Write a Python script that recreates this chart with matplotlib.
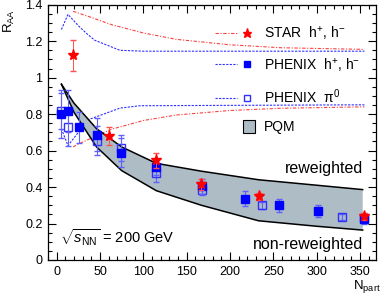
import numpy as np
import matplotlib
matplotlib.use("Agg")
import matplotlib.pyplot as plt
import matplotlib.patches as mpatches
from matplotlib.lines import Line2D
from matplotlib.legend_handler import HandlerTuple, HandlerPatch
from matplotlib.ticker import MultipleLocator, FuncFormatter

plt.rcParams["font.family"] = ["Liberation Sans", "DejaVu Sans"]
plt.rcParams["mathtext.fontset"] = "custom"
plt.rcParams["mathtext.rm"] = "Liberation Sans"
plt.rcParams["mathtext.it"] = "Liberation Sans:italic"

# PHENIX h+, h- (filled squares)
phx_h_N = [5.5, 13, 25.5, 46, 74.7, 114.6, 167.3, 217, 256, 301.6, 354]
phx_h_R = [0.80, 0.818, 0.727, 0.687, 0.589, 0.51, 0.404, 0.336, 0.30, 0.269, 0.227]
phx_h_E = [0.13, 0.115, 0.085, 0.09, 0.08, 0.045, 0.04, 0.042, 0.035, 0.035, 0.03]

# PHENIX pi0 (open squares)
phx_pi_N = [5.5, 13, 46, 74.7, 114.6, 167.3, 236.4, 328.6, 354]
phx_pi_R = [0.818, 0.727, 0.655, 0.615, 0.476, 0.386, 0.30, 0.236, 0.232]
phx_pi_E = [0.10, 0.10, 0.08, 0.07, 0.05, 0.03, 0.02, 0.015, 0.015]

# STAR h+, h- (stars)
star_N = [19, 60.5, 114.6, 166, 233.6, 354]
star_R = [1.124, 0.678, 0.546, 0.415, 0.349, 0.24]
star_E = [0.085, 0.05, 0.04, 0.03, 0.02, 0.02]

# PQM band
pqm_N = [5.5, 20, 46, 75, 115, 167, 233, 300, 353]
pqm_up = [0.964, 0.86, 0.72, 0.62, 0.53, 0.487, 0.44, 0.41, 0.386]
pqm_lo = [0.964, 0.81, 0.62, 0.49, 0.38, 0.30, 0.215, 0.185, 0.164]

# normalisation uncertainty curves
blue_up_N = [5.5, 13, 25, 35, 44, 73, 100, 355]
blue_up_R = [1.264, 1.347, 1.285, 1.24, 1.205, 1.15, 1.145, 1.145]
blue_lo_N = [5.5, 13, 25, 38.6, 73, 96, 355]
blue_lo_R = [0.72, 0.627, 0.70, 0.773, 0.833, 0.846, 0.851]
red_up_N = [19, 40, 63.7, 100, 138, 200, 259, 355]
red_up_R = [1.364, 1.33, 1.29, 1.245, 1.21, 1.18, 1.164, 1.155]
red_lo_N = [19, 25, 61.7, 100, 138, 200, 259, 355]
red_lo_R = [0.62, 0.636, 0.715, 0.765, 0.795, 0.82, 0.832, 0.84]

red_ls = (0, (3, 1.5, 1, 1.5))
blue_ls = (0, (2, 1.2))

fig = plt.figure(figsize=(3.81, 3.01), dpi=100)
ax = fig.add_axes([48/381, 41/301, 327.7/381, 255.3/301])

ax.plot(red_up_N, red_up_R, color="#ff4040", lw=0.8, ls=red_ls, zorder=1)
ax.plot(red_lo_N, red_lo_R, color="#ff4040", lw=0.8, ls=red_ls, zorder=1)
ax.plot(blue_up_N, blue_up_R, color="#3030ff", lw=0.8, ls=blue_ls, zorder=1)
ax.plot(blue_lo_N, blue_lo_R, color="#3030ff", lw=0.8, ls=blue_ls, zorder=1)

ax.fill_between(pqm_N, pqm_lo, pqm_up, facecolor="#aebcc6", edgecolor="none", zorder=2)
ax.plot(pqm_N, pqm_up, color="k", lw=1.1, zorder=3)
ax.plot(pqm_N, pqm_lo, color="k", lw=1.1, zorder=3)

ax.errorbar(phx_pi_N, phx_pi_R, yerr=phx_pi_E, fmt="s", ms=6, mfc="none", mec="#3030ff",
            mew=1.0, ecolor="#6060ff", elinewidth=0.8, capsize=2, zorder=4)
ax.errorbar(phx_h_N, phx_h_R, yerr=phx_h_E, fmt="s", ms=6, mfc="#0000ff", mec="#0000ff",
            ecolor="#6060ff", elinewidth=0.8, capsize=2, zorder=5)
ax.errorbar(star_N, star_R, yerr=star_E, fmt="*", ms=8, mfc="#ff0000", mec="#ff0000",
            ecolor="#ff5050", elinewidth=0.7, capsize=2, zorder=6)

ax.set_xlim(-10, 368)
ax.set_ylim(0, 1.4)
ax.xaxis.set_major_locator(MultipleLocator(50))
ax.xaxis.set_minor_locator(MultipleLocator(10))
ax.yaxis.set_major_locator(MultipleLocator(0.2))
ax.yaxis.set_minor_locator(MultipleLocator(0.05))
ax.yaxis.set_major_formatter(FuncFormatter(lambda v, p: "%g" % round(v, 2)))
ax.tick_params(which="both", direction="in", top=True, right=True, labelsize=9, pad=4)
ax.tick_params(which="major", length=6, width=0.8)
ax.tick_params(which="minor", length=3, width=0.8)
for s in ax.spines.values():
    s.set_linewidth(0.9)

ax.set_xlabel(r"N$_{\rm part}$", fontsize=9.5, ha="right")
ax.xaxis.set_label_coords(1.016, -0.07)
ax.set_ylabel(r"R$_{\rm AA}$", fontsize=9.5, ha="right")
ax.yaxis.set_label_coords(-0.095, 0.985)

ax.text(353, 0.50, "reweighted", fontsize=11.5, ha="right", va="center")
ax.text(353, 0.087, "non-reweighted", fontsize=11.5, ha="right", va="center")
ax.text(4, 0.12, r"$\sqrt{s_{\rm NN}}$ = 200 GeV", fontsize=10.5, ha="left", va="center")

# legend
h_star = (Line2D([], [], color="#ff4040", lw=0.8, ls=red_ls),
          Line2D([], [], ls="none", marker="*", ms=6.5, color="#ff0000"))
h_phx = (Line2D([], [], color="#3030ff", lw=0.8, ls=blue_ls),
         Line2D([], [], ls="none", marker="s", ms=5, color="#0000ff"))
h_pi = (Line2D([], [], color="#3030ff", lw=0.8, ls=blue_ls),
        Line2D([], [], ls="none", marker="s", ms=5, mfc="none", mec="#3030ff"))
h_pqm = mpatches.Patch(facecolor="#aebcc6", edgecolor="k", lw=0.8)


def small_box(legend, orig_handle, xdescent, ydescent, width, height, fontsize):
    s = height * 1.3
    return mpatches.Rectangle((-xdescent + width - s - 2, -ydescent + (height - s) / 2), s, s)


ax.legend([h_star, h_phx, h_pi, h_pqm],
          [r"STAR  h$^{+}$, h$^{-}$", r"PHENIX  h$^{+}$, h$^{-}$", r"PHENIX  π$^{0}$", "PQM"],
          handler_map={tuple: HandlerTuple(ndivide=None, pad=-0.1),
                       mpatches.Patch: HandlerPatch(patch_func=small_box)},
          loc="upper left", bbox_to_anchor=(0.51, 0.925), frameon=False, fontsize=10,
          handlelength=3.1, handletextpad=0.4, labelspacing=1.0,
          borderpad=0, borderaxespad=0)

fig.savefig("out.png", dpi=100)
